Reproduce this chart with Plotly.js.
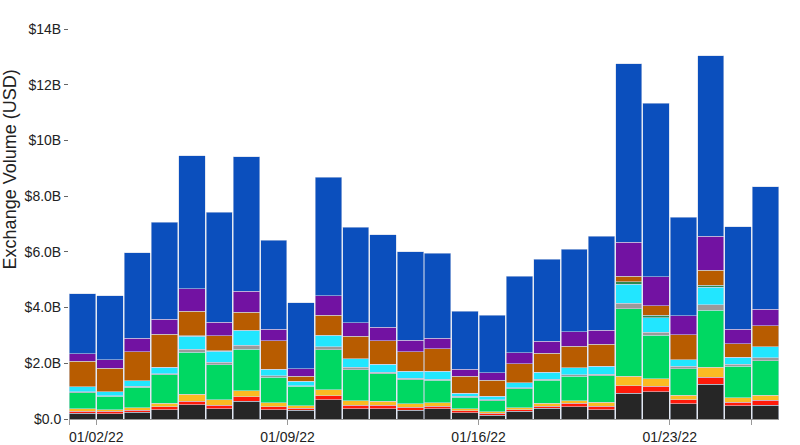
<!DOCTYPE html>
<html>
<head>
<meta charset="utf-8">
<script src="https://cdn.plot.ly/plotly-3.0.1.min.js"></script>
<style>html,body{margin:0;padding:0;background:#fff;}#chart{width:800px;height:445px;}</style>
</head>
<body>
<div id="chart"></div>
<script>
// Dates (one bar per day)
const dates = ['2022-01-01','2022-01-02','2022-01-03','2022-01-04','2022-01-05','2022-01-06','2022-01-07',
  '2022-01-08','2022-01-09','2022-01-10','2022-01-11','2022-01-12','2022-01-13','2022-01-14',
  '2022-01-15','2022-01-16','2022-01-17','2022-01-18','2022-01-19','2022-01-20','2022-01-21',
  '2022-01-22','2022-01-23','2022-01-24','2022-01-25','2022-01-26'];

// Exchange volumes in billions of USD, bottom of the stack first
const seriesBlack  = [0.20,0.19,0.25,0.33,0.51,0.37,0.63,0.34,0.31,0.70,0.37,0.37,0.32,0.37,0.22,0.14,0.27,0.38,0.44,0.34,0.93,0.97,0.54,1.24,0.47,0.50];
const seriesRed    = [0.08,0.08,0.07,0.11,0.13,0.13,0.16,0.10,0.07,0.14,0.12,0.12,0.10,0.09,0.08,0.06,0.07,0.08,0.12,0.12,0.27,0.20,0.16,0.26,0.14,0.18];
const seriesYellow = [0.08,0.06,0.08,0.13,0.25,0.19,0.22,0.14,0.09,0.21,0.16,0.14,0.12,0.13,0.07,0.06,0.07,0.10,0.10,0.15,0.33,0.28,0.15,0.36,0.16,0.17];
const seriesGreen  = [0.58,0.48,0.74,1.01,1.50,1.25,1.50,0.92,0.70,1.43,1.12,0.99,0.87,0.80,0.41,0.40,0.68,0.83,0.87,0.94,2.43,1.56,0.95,2.05,1.12,1.25];
const seriesGray   = [0.03,0.02,0.04,0.04,0.12,0.09,0.14,0.05,0.03,0.11,0.08,0.06,0.05,0.04,0.03,0.04,0.04,0.04,0.05,0.06,0.19,0.11,0.09,0.20,0.08,0.09];
const seriesCyan   = [0.18,0.15,0.19,0.24,0.46,0.41,0.51,0.24,0.16,0.40,0.31,0.29,0.26,0.28,0.12,0.12,0.18,0.24,0.26,0.28,0.69,0.52,0.24,0.62,0.24,0.40];
const seriesDkGreen= [0.00,0.00,0.00,0.00,0.02,0.01,0.02,0.00,0.00,0.02,0.00,0.00,0.00,0.00,0.00,0.00,0.00,0.00,0.00,0.00,0.09,0.08,0.00,0.08,0.00,0.00];
const seriesBrown  = [0.93,0.84,1.05,1.19,0.87,0.54,0.66,1.02,0.17,0.71,0.81,0.84,0.70,0.81,0.61,0.58,0.68,0.69,0.77,0.79,0.20,0.34,0.89,0.53,0.50,0.76];
const seriesPurple = [0.26,0.30,0.48,0.53,0.82,0.49,0.74,0.41,0.27,0.70,0.49,0.48,0.40,0.38,0.25,0.26,0.39,0.44,0.53,0.51,1.22,1.05,0.68,1.22,0.52,0.59];
const seriesBlue   = [2.16,2.31,3.06,3.49,4.77,3.95,4.84,3.20,2.37,4.25,3.43,3.33,3.19,3.05,2.08,2.07,2.75,2.93,2.96,3.37,6.40,6.22,3.55,6.48,3.67,4.39];

// Y tick labels
const yTickVals = [0,2,4,6,8,10,12,14];
const yTickText = ['$0.0','$2.0B','$4.0B','$6.0B','$8.0B','$10B','$12B','$14B'];
// X tick labels
const xTickVals = ['2022-01-01','2022-01-02','2022-01-09','2022-01-16','2022-01-23','2022-01-26'];
const xTickText = ['','01/02/22','01/09/22','01/16/22','01/23/22',''];
const yTitle = 'Exchange Volume (USD)';

const series = [
  {name:'Series 1', values:seriesBlack,  color:'#262626'},
  {name:'Series 2', values:seriesRed,    color:'#ff1a0a'},
  {name:'Series 3', values:seriesYellow, color:'#fbbb22'},
  {name:'Series 4', values:seriesGreen,  color:'#00d862'},
  {name:'Series 5', values:seriesGray,   color:'#9a9a9a'},
  {name:'Series 6', values:seriesCyan,   color:'#22e6ff'},
  {name:'Series 7', values:seriesDkGreen,color:'#2e8a4e'},
  {name:'Series 8', values:seriesBrown,  color:'#b85c00'},
  {name:'Series 9', values:seriesPurple, color:'#7212a2'},
  {name:'Series 10',values:seriesBlue,   color:'#0b4fbd'}
];

const DAY = 86400000;
const traces = series.map(s => ({
  type:'bar',
  name:s.name,
  x:dates,
  y:s.values,
  xperiod:DAY,
  xperiodalignment:'middle',
  width:DAY*0.965,
  marker:{color:s.color, line:{color:'rgba(205,214,232,0.8)', width:0.7}},
  hovertemplate:'%{x}<br>$%{y:.2f}B<extra>'+s.name+'</extra>'
}));

const layout = {
  width:800, height:445,
  margin:{l:69, r:21, t:29, b:26},
  paper_bgcolor:'#fff', plot_bgcolor:'#fff',
  barmode:'stack', bargap:0,
  showlegend:false,
  font:{family:'"Liberation Sans", Arial, sans-serif', size:14, color:'#222'},
  xaxis:{
    type:'date',
    range:['2022-01-01','2022-01-27'],
    tickvals:xTickVals, ticktext:xTickText,
    ticks:'outside', ticklen:5, tickcolor:'#999', tickwidth:1,
    showline:true, linecolor:'#999', linewidth:1,
    showgrid:false, zeroline:false,
    tickfont:{size:14, color:'#222'}
  },
  yaxis:{
    range:[0,14],
    tickvals:yTickVals, ticktext:yTickText,
    ticks:'outside', ticklen:4, tickcolor:'#666', tickwidth:1,
    showline:false, showgrid:false, zeroline:false,
    tickfont:{size:14, color:'#222'}
  },
  annotations:[{
    text:yTitle, textangle:-90, showarrow:false,
    xref:'paper', yref:'paper', x:0, y:0.64, xanchor:'center', yanchor:'middle',
    xshift:-59,
    font:{size:18, color:'#222'}
  }]
};

Plotly.newPlot('chart', traces, layout, {displayModeBar:false, staticPlot:true});
</script>
</body>
</html>
